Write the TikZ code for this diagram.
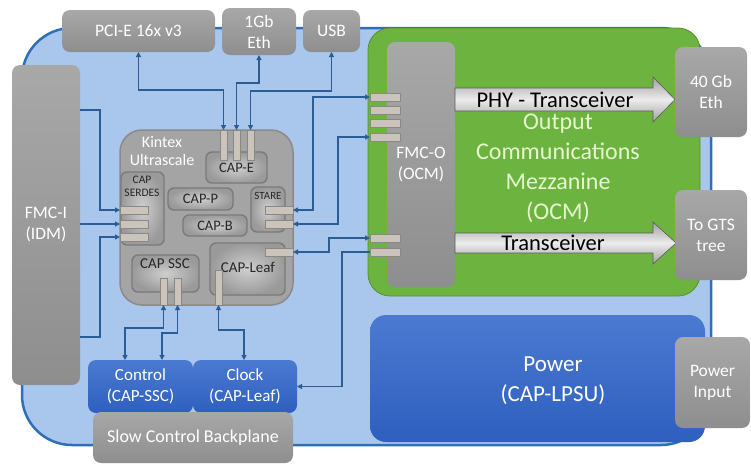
\documentclass[tikz,border=0pt]{standalone}
\usepackage{fontspec}
\setmainfont{Carlito}
\usetikzlibrary{arrows.meta,calc}
\definecolor{boardfill}{HTML}{A9C7EC}
\definecolor{boardline}{HTML}{2F6FB7}
\definecolor{gbtop}{HTML}{A8A8A8}
\definecolor{gbbot}{HTML}{8E8E8E}
\definecolor{ocmgreen}{HTML}{6DB33F}
\definecolor{ocmtext}{HTML}{E6F7CF}
\definecolor{bltop}{HTML}{4A7AD0}
\definecolor{blbot}{HTML}{2F5FBF}
\definecolor{chipfill}{HTML}{A4A4A4}
\definecolor{chipline}{HTML}{8A8A8A}
\definecolor{subin}{HTML}{CFCFCF}
\definecolor{subout}{HTML}{9A9A9A}
\definecolor{subline}{HTML}{7A7A7A}
\definecolor{pinfill}{HTML}{CBC4BC}
\definecolor{pinline}{HTML}{8C8780}
\definecolor{linkc}{HTML}{2B5C94}
\newcommand\bx[7]{\node[#6, minimum width={(#4)-(#2)}, minimum height={(#5)-(#3)}] (#1) at ({((#2)+(#4))/2},{((#3)+(#5))/2}) {#7};}
\tikzset{
  base/.style={inner sep=0pt, outer sep=0pt, align=center},
  graybox/.style={base, rounded corners=8pt, top color=gbtop, bottom color=gbbot, text=white, font=\fontsize{17.5}{21}\selectfont},
  bluebox/.style={base, rounded corners=8pt, top color=bltop, bottom color=blbot, text=white, font=\fontsize{17}{21}\selectfont},
  chip/.style={base, rounded corners=22pt, fill=chipfill, draw=chipline, line width=1.5pt},
  subbox/.style={base, rounded corners=6pt, inner color=subin, outer color=subout, draw=subline, line width=1.4pt, text=black!85, font=\fontsize{14.5}{16}\selectfont},
  pin/.style={base, fill=pinfill, draw=pinline, line width=0.5pt},
  link/.style={draw=linkc, line width=1.4pt, arrows={-}, >={Triangle[length=5pt,width=5pt]}},
  bigarrow/.style={top color=gray!75, bottom color=gray!75, middle color=gray!15, draw=gray!70!black, line width=0.6pt},
  lbl/.style={base, text=black, font=\fontsize{22.5}{26}\selectfont},
}
\begin{document}
\begin{tikzpicture}[x=1pt,y=-1pt]
\useasboundingbox (0,0) rectangle (751,467);
\fill[white] (0,0) rectangle (751,467);
% board
\draw[fill=boardfill, draw=boardline, line width=2.5pt, rounded corners=50pt] (22,28) rectangle (711,445);
% top boxes
\bx{pci}{62}{10}{215}{52}{graybox}{PCI-E 16x v3}
\bx{eth1}{222}{8}{296}{55}{graybox}{1Gb\\Eth}
\bx{usb}{303}{10}{360}{52}{graybox}{USB}
% FMC-I
\bx{fmci}{12}{65}{80}{385}{graybox}{FMC-I\\(IDM)}
% OCM
\bx{ocm}{368}{28}{700}{296}{base, rounded corners=22pt, fill=ocmgreen, draw=ocmgreen!80!black, line width=0.8pt}{}
\node[base, text=ocmtext, font=\fontsize{24}{30}\selectfont] (ocmlbl) at (558,168) {Output\\Communications\\Mezzanine\\(OCM)};
\bx{fmco}{387}{42}{455}{287}{graybox}{FMC-O\\(OCM)}
% big arrows
\shade[bigarrow] (455,88) -- (653,88) -- (653,77) -- (675,99.5) -- (653,122) -- (653,111) -- (455,111) -- cycle;
\node[lbl] (phy) at (555,100) {PHY - Transceiver};
\shade[bigarrow] (455,233) -- (653,233) -- (653,222) -- (676,243) -- (653,264) -- (653,253) -- (455,253) -- cycle;
\node[lbl] (trx) at (553,243) {Transceiver};
% right boxes
\bx{eth40}{675}{47}{747}{137}{graybox}{40 Gb\\Eth}
\bx{gts}{675}{190}{747}{280}{graybox}{To GTS\\tree}
% power
\bx{power}{370}{315}{705}{442}{base, rounded corners=16pt, top color=bltop, bottom color=blbot}{}
\node[base, text=white, font=\fontsize{23}{30}\selectfont] (powerlbl) at (553,381) {Power\\(CAP-LPSU)};
\bx{pwrin}{675}{337}{750}{428}{graybox}{Power\\Input}
% bottom left
\bx{control}{88}{360}{193}{413}{bluebox}{Control\\(CAP-SSC)}
\bx{clock}{193}{360}{297}{413}{bluebox}{Clock\\(CAP-Leaf)}
\bx{scb}{93}{412}{293}{463}{graybox, font=\fontsize{18}{21}\selectfont}{Slow Control Backplane}
% Kintex
\bx{kintex}{120}{130}{293}{305}{chip}{}
\node[base, text=white, font=\fontsize{16}{18}\selectfont] (kintexlbl) at (162,151) {Kintex\\Ultrascale};
\bx{cape}{206}{152}{267}{183}{subbox}{CAP-E}
\bx{serdes}{121}{172}{164}{245}{subbox}{}
\node[base, text=black!85, font=\fontsize{11.5}{13}\selectfont] (serdeslbl) at (142,186) {CAP\\SERDES};
\bx{capp}{168}{188}{233}{210}{subbox}{CAP-P}
\bx{capb}{183}{215}{247}{236}{subbox}{CAP-B}
\bx{stare}{251}{187}{285}{232}{subbox}{}
\node[base, text=black!85, font=\fontsize{11}{13}\selectfont] (starelbl) at (268,196) {STARE};
\bx{ssc}{132}{255}{199}{292}{subbox}{}
\node[base, text=black!85, font=\fontsize{15}{16}\selectfont] (ssclbl) at (165,264) {CAP SSC};
\bx{leaf}{210}{243}{285}{295}{subbox}{}
\node[base, text=black!85, font=\fontsize{15}{16}\selectfont] (leaflbl) at (248,267) {CAP-Leaf};
% pins
\bx{pe1}{220}{130}{227}{160}{pin}{}
\bx{pe2}{233}{130}{240}{160}{pin}{}
\bx{pe3}{247}{130}{254}{160}{pin}{}
\bx{ps1}{120}{206}{148}{214}{pin}{}
\bx{ps2}{120}{220}{148}{228}{pin}{}
\bx{ps3}{120}{233}{148}{241}{pin}{}
\bx{ss1}{265}{206}{293}{214}{pin}{}
\bx{ss2}{265}{220}{293}{228}{pin}{}
\bx{sl1}{265}{248}{293}{256}{pin}{}
\bx{pss1}{160}{278}{167}{305}{pin}{}
\bx{pss2}{174}{278}{181}{305}{pin}{}
\bx{plb}{215}{270}{222}{305}{pin}{}
\bx{po1}{370}{93}{400}{101}{pin}{}
\bx{po2}{370}{106}{400}{114}{pin}{}
\bx{po3}{370}{119}{400}{127}{pin}{}
\bx{po4}{370}{133}{400}{141}{pin}{}
\bx{po5}{370}{234}{400}{242}{pin}{}
\bx{po6}{370}{248}{400}{256}{pin}{}
% connectors
\draw[link,<->] (pci.south) -- ++(0,38) -| (pe1.north);
\draw[link,<->] (eth1.south) -- ++(0,28) -| (pe2.north);
\draw[link,<->] (usb.south) -- ++(0,39) -| (pe3.north);
\draw[link,->] (fmci.north east) ++(0,45) -- ++(20,0) |- (ps1.west);
\draw[link,->] (fmci.east |- ps2.west) -- (ps2.west);
\draw[link,->] (fmci.south east) ++(0,-48) -- ++(20,0) |- (ps3.west);
\draw[link,<->] (ss1.east) -- ++(20,0) |- (po1.west);
\draw[link,<->] (ss2.east) -- ++(45,0) |- (po4.west);
\draw[link,<->] (sl1.east) -- ++(36,0) |- (po5.west);
\draw[link,->] (po6.west) -- ++(-28,0) |- (clock.east);
\draw[link,<->] (pss1.south) -- ++(0,23) -| ([xshift=37pt]control.north west);
\draw[link,<->] (pss2.south) -- ++(0,28) -| ([xshift=74pt]control.north west);
\draw[link,<->] (plb.south) -- ++(0,25) -| ([xshift=51pt]clock.north west);
\end{tikzpicture}
\end{document}
